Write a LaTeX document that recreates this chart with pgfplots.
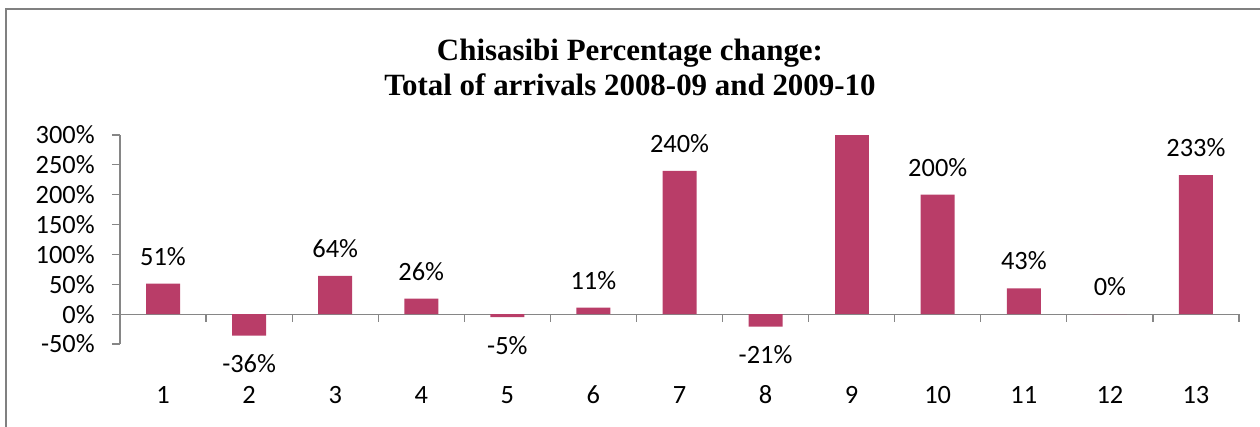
\documentclass[border=0pt]{standalone}
\usepackage{fontspec}
\setmainfont{Carlito}
\newfontfamily\titlefont{Liberation Serif}
\usepackage{pgfplots}
\pgfplotsset{compat=1.18}

\definecolor{barcol}{RGB}{185,61,104}
\definecolor{axisgray}{RGB}{134,134,134}
\definecolor{framegray}{RGB}{128,128,128}

\newcommand{\lblfont}{\fontsize{19.8}{23}\selectfont}

\begin{document}
\begin{tikzpicture}
% 1 px of the reference = 0.75pt
\useasboundingbox (0,0) rectangle (945pt,319.5pt);
% chart frame (only top and left edges are inside the picture)
\draw[framegray, line width=1.5pt] (4.5pt,-5pt) -- (4.5pt,312.75pt) -- (950pt,312.75pt);

% title
\node[anchor=base, font=\titlefont\bfseries\fontsize{23.2}{26}\selectfont] at (472.5pt,274.5pt) {Chisasibi Percentage change:};
\node[anchor=base, font=\titlefont\bfseries\fontsize{23.2}{26}\selectfont] at (472.5pt,248.25pt) {Total of arrivals 2008-09 and 2009-10};

\begin{axis}[
    at={(90pt,61.5pt)}, anchor=south west,
    scale only axis,
    width=839.25pt, height=156.75pt,
    xmin=0.5, xmax=13.5,
    ymin=-0.5, ymax=3,
    axis x line*=bottom, axis y line*=left,
    x axis line style={draw=none},
    y axis line style={draw=axisgray, line width=0.9pt},
    xtick={1,...,13},
    xticklabels={1,2,3,4,5,6,7,8,9,10,11,12,13},
    xtick style={draw=none},
    xticklabel style={anchor=base, yshift=-38.25pt, inner sep=0pt, font=\lblfont},
    ytick={-0.5,0,0.5,1,1.5,2,2.5,3},
    yticklabels={-50\%,0\%,50\%,100\%,150\%,200\%,250\%,300\%},
    ytick style={draw=axisgray, line width=0.9pt},
    yticklabel style={anchor=east, inner sep=0pt, xshift=-12.75pt, font=\lblfont},
    tick align=outside,
    major tick length=6pt,
    ybar, bar width=25.5pt, bar shift=0pt,
    clip=false,
    point meta=explicit symbolic,
]
% zero line and category separators
\draw[axisgray, line width=0.9pt] (axis cs:0.5,0) -- (axis cs:13.5,0);
\pgfplotsinvokeforeach{1.5,2.5,...,13.5}{
  \draw[axisgray, line width=0.9pt] (axis cs:#1,0) -- ([yshift=-6pt]axis cs:#1,0);
}

% positive values with labels
\addplot[fill=barcol, draw=none, nodes near coords,
  every node near coord/.style={anchor=base, yshift=13.9pt, inner sep=0pt, font=\lblfont, text=black}]
  coordinates {(1,0.51) [51\%] (3,0.64) [64\%] (4,0.26) [26\%] (6,0.11) [11\%]
               (7,2.40) [240\%] (10,2.00) [200\%] (11,0.43) [43\%] (12,0) [0\%]
               (13,2.33) [233\%]};
% negative values with labels
\addplot[fill=barcol, draw=none, nodes near coords,
  every node near coord/.style={anchor=base, yshift=-27.75pt, inner sep=0pt, font=\lblfont, text=black}]
  coordinates {(2,-0.36) [-36\%] (5,-0.05) [-5\%] (8,-0.21) [-21\%]};
% value at the top of the scale, no label shown
\addplot[fill=barcol, draw=none] coordinates {(9,3.00) []};
\end{axis}
\end{tikzpicture}
\end{document}
